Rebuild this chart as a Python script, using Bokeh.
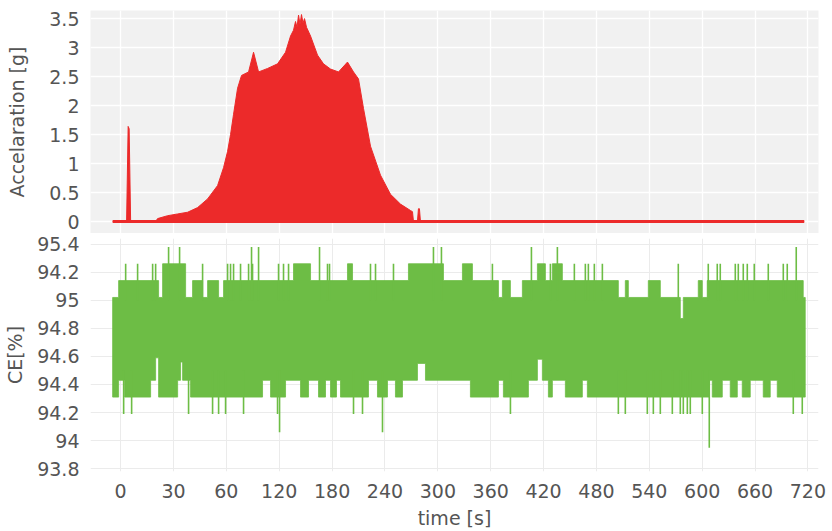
from bokeh.plotting import figure
from bokeh.layouts import column
from bokeh.models import FixedTicker, Range1d
from bokeh.embed import file_html
from bokeh.resources import INLINE

# x positions are in axis-tick units: tick i carries time_labels[i]
time_ticks = list(range(14))
time_labels = ["0", "30", "60", "120", "180", "240", "300", "360", "420",
               "480", "540", "600", "660", "720"]
acc_ticks = [0, 0.5, 1, 1.5, 2, 2.5, 3, 3.5]
acc_labels = ["0", "0.5", "1", "1.5", "2", "2.5", "3", "3.5"]
ce_ticks = [93.8, 94.0, 94.2, 94.4, 94.6, 94.8, 95.0, 95.2, 95.4]
ce_labels = ["93.8", "94", "94.2", "94.4", "94.6", "94.8", "95", "94.2", "95.4"]

# acceleration trace
acc_t = [-0.151, 0.113, 0.142, 0.161, 0.189, 0.662, 0.699, 0.888, 1.078, 1.267,
         1.456, 1.645, 1.834, 1.947, 2.023, 2.079, 2.136, 2.212, 2.287, 2.420,
         2.514, 2.609, 2.779, 2.968, 3.119, 3.214, 3.270, 3.308, 3.336, 3.365,
         3.393, 3.421, 3.450, 3.478, 3.516, 3.592, 3.724, 3.837, 3.970, 4.121,
         4.291, 4.405, 4.499, 4.594, 4.726, 4.915, 5.104, 5.293, 5.482, 5.520,
         5.539, 5.614, 5.633, 5.652, 5.671, 12.930]
acc_g = [0.0, 0.0, 1.64, 1.60, 0.0, 0.0, 0.05, 0.10, 0.13, 0.16,
         0.24, 0.39, 0.62, 0.93, 1.21, 1.50, 1.85, 2.30, 2.52, 2.58,
         2.92, 2.58, 2.64, 2.72, 2.92, 3.20, 3.30, 3.45, 3.35, 3.56,
         3.40, 3.57, 3.42, 3.50, 3.35, 3.20, 2.87, 2.72, 2.63, 2.58,
         2.75, 2.58, 2.46, 1.95, 1.30, 0.80, 0.47, 0.30, 0.19, 0.17,
         0.0, 0.0, 0.22, 0.22, 0.0, 0.0]

# CE band: upper edge of the dense band (step levels between edges)
ce_top_edges = [-0.151, -0.038, 0.718, 0.794, 1.229, 1.361, 1.550, 1.645, 1.853,
                1.947, 3.270, 3.592, 4.291, 4.386, 5.444, 6.106, 6.465, 6.654,
                7.146, 7.221, 7.372, 7.599, 7.883, 8.034, 8.166, 8.355, 9.414,
                9.546, 9.603, 9.981, 10.208, 10.586, 10.643, 10.926, 11.002,
                11.096, 12.911, 12.949]
ce_top_level = [95.02, 95.14, 95.02, 95.26, 95.02, 95.14, 95.02, 95.14, 95.02,
                95.14, 95.26, 95.14, 95.26, 95.14, 95.26, 95.14, 95.26, 95.14,
                95.02, 95.14, 95.02, 95.14, 95.26, 95.14, 95.26, 95.14, 95.02,
                95.14, 95.02, 95.14, 95.02, 94.87, 95.02, 95.14, 95.02,
                95.14, 95.02]
# lower edge of the dense band
ce_bot_edges = [-0.151, -0.038, 0.076, 0.567, 0.662, 0.718, 1.078, 1.134, 1.172,
                1.323, 2.684, 2.836, 3.119, 3.403, 3.554, 3.743, 3.875, 3.970,
                4.083, 4.159, 4.688, 4.858, 5.047, 5.198, 5.331, 5.614, 5.766,
                6.616, 7.146, 7.240, 7.713, 7.883, 7.977, 8.091, 8.166, 8.412,
                8.733, 8.828, 11.134, 11.191, 11.380, 11.531, 11.664, 11.758,
                11.909, 12.155, 12.287, 12.420, 12.949]
ce_bot_level = [94.31, 94.43, 94.31, 94.43, 94.59, 94.31, 94.43, 94.56, 94.43,
                94.31, 94.43, 94.31, 94.43, 94.31, 94.43, 94.31, 94.43, 94.31,
                94.43, 94.31, 94.43, 94.31, 94.43, 94.31, 94.43, 94.55, 94.43,
                94.31, 94.43, 94.31, 94.43, 94.58, 94.43, 94.31, 94.43, 94.31,
                94.43, 94.31, 94.43, 94.31, 94.43, 94.31, 94.43, 94.31,
                94.43, 94.31, 94.43, 94.31]
# single-sample excursions above the band
ce_up_t = [0.095, 0.321, 0.605, 0.662, 1.550, 2.023, 2.079, 2.136, 2.268, 2.420,
           2.495, 2.987, 3.081, 3.176, 3.913, 3.951, 4.726, 4.821, 5.161, 7.032,
           8.129, 8.582, 8.790, 8.847, 8.960, 9.112, 10.548, 11.115, 11.285,
           11.342, 11.626, 11.683, 11.777, 11.853, 11.985, 12.250, 12.534, 12.609,
           0.907, 1.115, 2.476, 2.609, 3.762, 5.917, 6.068, 7.770, 8.261, 12.779]
ce_up_v = [95.26] * 38 + [95.38] * 10
# single-sample excursions below the band
ce_dn_t = [0.057, 0.208, 1.285, 1.739, 1.853, 1.985, 2.325, 2.968, 4.405, 4.575,
           7.373, 9.414, 9.546, 9.962, 10.076, 10.208, 10.435, 10.586, 10.643,
           10.719, 10.775, 11.002, 12.723, 12.893, 3.006, 4.953, 11.134]
ce_dn_v = [94.19] * 24 + [94.06, 94.06, 93.95]

RED = "#ec2a2a"
GREEN = "#6dbd45"
TXT = "#555555"
FONT = "DejaVu Sans"


def style(p):
    p.outline_line_color = None
    for ax in p.axis:
        ax.axis_line_color = None
        ax.major_tick_line_color = None
        ax.minor_tick_line_color = None
        ax.major_label_text_font = FONT
        ax.major_label_text_font_size = "19px"
        ax.major_label_text_color = TXT
        ax.axis_label_text_font = FONT
        ax.axis_label_text_font_size = "19px"
        ax.axis_label_text_font_style = "normal"
        ax.axis_label_text_color = TXT


xr = Range1d(-0.57, 13.2)

p1 = figure(width=832, height=233, x_range=xr, y_range=Range1d(-0.207, 3.64),
            min_border_left=90, min_border_right=14, min_border_top=10,
            min_border_bottom=0, background_fill_color="#f1f1f1",
            output_backend="svg", toolbar_location=None)
p1.varea(x=acc_t, y1=[0] * len(acc_t), y2=acc_g, fill_color=RED)
p1.line(acc_t, acc_g, line_color=RED, line_width=1)
p1.line([acc_t[0], acc_t[-1]], [0, 0], line_color=RED, line_width=3)
p1.xaxis.ticker = FixedTicker(ticks=time_ticks)
p1.xaxis.visible = False
p1.yaxis.ticker = FixedTicker(ticks=acc_ticks)
p1.yaxis.major_label_overrides = {t: s for t, s in zip(acc_ticks, acc_labels)}
p1.yaxis.axis_label = "Accelaration [g]"
p1.grid.grid_line_color = "white"
p1.grid.grid_line_width = 1.3
style(p1)
p1.yaxis.major_label_standoff = 5
p1.yaxis.axis_label_standoff = 18

p2 = figure(width=832, height=298, x_range=xr, y_range=Range1d(93.78, 95.44),
            min_border_left=90, min_border_right=14, min_border_top=5,
            min_border_bottom=57, background_fill_color="white",
            output_backend="svg", toolbar_location=None)

# build the band outline from the step edges
px, py = [], []
for i, lvl in enumerate(ce_top_level):
    px += [ce_top_edges[i], ce_top_edges[i + 1]]
    py += [lvl, lvl]
bx, by = [], []
for i, lvl in enumerate(ce_bot_level):
    bx += [ce_bot_edges[i], ce_bot_edges[i + 1]]
    by += [lvl, lvl]
p2.patch(px + bx[::-1], py + by[::-1], fill_color=GREEN, line_color=GREEN,
         line_width=0.8)
p2.segment(x0=ce_up_t, y0=[95.0] * len(ce_up_t), x1=ce_up_t, y1=ce_up_v,
           line_color=GREEN, line_width=1.6)
p2.segment(x0=ce_dn_t, y0=[94.5] * len(ce_dn_t), x1=ce_dn_t, y1=ce_dn_v,
           line_color=GREEN, line_width=1.6)

p2.xaxis.ticker = FixedTicker(ticks=time_ticks)
p2.xaxis.major_label_overrides = {t: s for t, s in zip(time_ticks, time_labels)}
p2.xaxis.axis_label = "time [s]"
p2.yaxis.ticker = FixedTicker(ticks=ce_ticks)
p2.yaxis.major_label_overrides = {t: s for t, s in zip(ce_ticks, ce_labels)}
p2.yaxis.axis_label = "CE[%]"
p2.grid.grid_line_color = "#ebebeb"
p2.grid.grid_line_width = 1
style(p2)
p2.yaxis.major_label_standoff = 5
p2.yaxis.axis_label_standoff = 8
p2.xaxis.major_label_standoff = 6
p2.xaxis.axis_label_standoff = 6

layout = column(p1, p2)
open("out.html", "w").write(file_html(layout, INLINE))
